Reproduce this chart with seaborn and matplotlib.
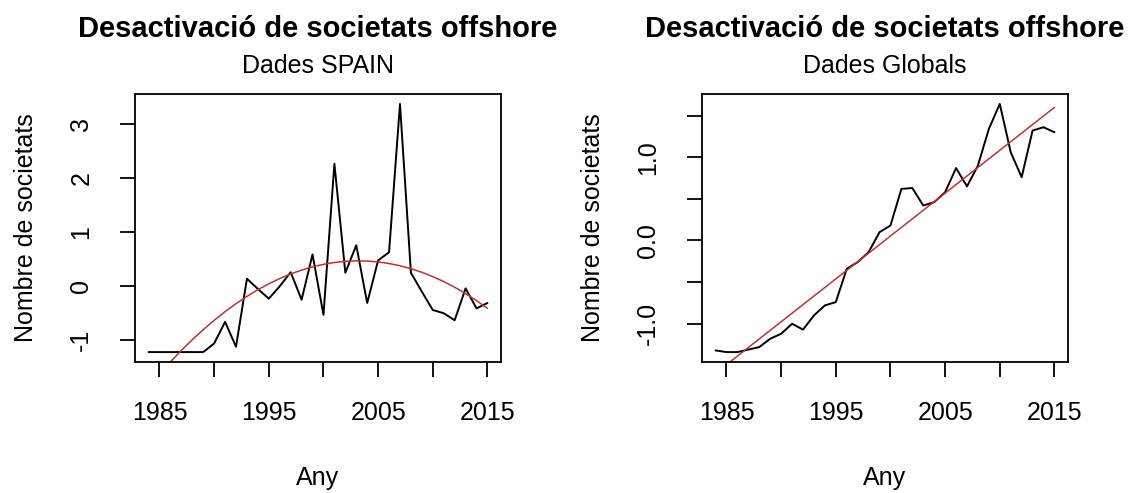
import numpy as np
import pandas as pd
import matplotlib
matplotlib.use("Agg")
import matplotlib.pyplot as plt
import seaborn as sns

# ---- data -------------------------------------------------------------
years = list(range(1984, 2016))

spain = [-1.22, -1.22, -1.22, -1.22, -1.22, -1.22, -1.06, -0.66, -1.12, 0.14,
         -0.05, -0.23, 0.00, 0.26, -0.25, 0.59, -0.53, 2.27, 0.25, 0.76,
         -0.31, 0.48, 0.63, 3.38, 0.25, -0.10, -0.44, -0.50, -0.63, -0.04,
         -0.41, -0.31]

globals_ = [-1.32, -1.34, -1.34, -1.31, -1.28, -1.18, -1.12, -1.00, -1.07, -0.90,
            -0.78, -0.74, -0.34, -0.26, -0.14, 0.10, 0.18, 0.62, 0.63, 0.42,
            0.46, 0.58, 0.87, 0.65, 0.90, 1.34, 1.64, 1.06, 0.76, 1.32,
            1.36, 1.30]

title = "Desactivació de societats offshore"
subtitles = ["Dades SPAIN", "Dades Globals"]
xlabel = "Any"
ylabel = "Nombre de societats"

xticks = [1985, 1990, 1995, 2000, 2005, 2010, 2015]
xticklabels = ["1985", "", "1995", "", "2005", "", "2015"]
yticks_spain = [-1, 0, 1, 2, 3]
yticklabels_spain = ["-1", "0", "1", "2", "3"]
yticks_glob = [-1.0, -0.5, 0.0, 0.5, 1.0, 1.5]
yticklabels_glob = ["-1.0", "", "0.0", "", "1.0", ""]

# ---- style ------------------------------------------------------------
sns.set_style("white")
plt.rcParams["font.family"] = ["Liberation Sans", "DejaVu Sans"]
plt.rcParams["axes.edgecolor"] = "black"
plt.rcParams["axes.linewidth"] = 1.3

fig = plt.figure(figsize=(11.37, 4.93), dpi=100)
W, H = 1137, 493
ax_l = fig.add_axes([135 / W, (H - 362) / H, 366 / W, 268 / H])
ax_r = fig.add_axes([702 / W, (H - 362) / H, 366 / W, 268 / H])


def padded(lo, hi, frac=0.04):
    d = (hi - lo) * frac
    return lo - d, hi + d


def draw(ax, values, degree, yticks, yticklabels, subtitle):
    x = np.array(years, dtype=float)
    y = np.array(values, dtype=float)
    # least-squares trend (quadratic for Spain, linear for global data)
    coef = np.polyfit(x - x.mean(), y, degree)
    fitted = np.polyval(coef, x - x.mean())
    df = pd.DataFrame({"Any": x, "valor": y, "ajust": fitted})

    sns.lineplot(data=df, x="Any", y="valor", ax=ax, color="black",
                 linewidth=1.4, errorbar=None)
    sns.lineplot(data=df, x="Any", y="ajust", ax=ax, color="#c42f2f",
                 linewidth=1.1, errorbar=None)

    ax.set_xlim(*padded(min(years), max(years)))
    ax.set_ylim(*padded(min(values), max(values)))

    ax.set_xticks(xticks)
    ax.set_xticklabels(xticklabels)
    ax.set_yticks(yticks)
    ax.set_yticklabels(yticklabels)
    ax.tick_params(axis="both", direction="out", length=11, width=1.3,
                   color="black", labelsize=18, labelcolor="black",
                   left=True, bottom=True)
    ax.tick_params(axis="x", pad=17)
    ax.tick_params(axis="y", pad=19, labelrotation=90)
    for lab in ax.get_yticklabels():
        lab.set_va("center")

    ax.set_xlabel(xlabel, fontsize=18, color="black")
    ax.set_ylabel(ylabel, fontsize=18, color="black")
    ax.xaxis.set_label_coords(0.5, -0.388)
    ax.yaxis.set_label_coords(-0.264, 0.5)

    for s in ax.spines.values():
        s.set_visible(True)
        s.set_color("black")
        s.set_linewidth(1.3)

    pos = ax.get_position()
    cx = pos.x0 + pos.width / 2
    fig.text(cx, (H - 37) / H, title, ha="center", va="baseline",
             fontsize=21, fontweight="bold", color="black")
    fig.text(cx, (H - 73) / H, subtitle, ha="center", va="baseline",
             fontsize=18, color="black")


draw(ax_l, spain, 2, yticks_spain, yticklabels_spain, subtitles[0])
draw(ax_r, globals_, 1, yticks_glob, yticklabels_glob, subtitles[1])

fig.savefig("out.png", dpi=100, facecolor="white")
